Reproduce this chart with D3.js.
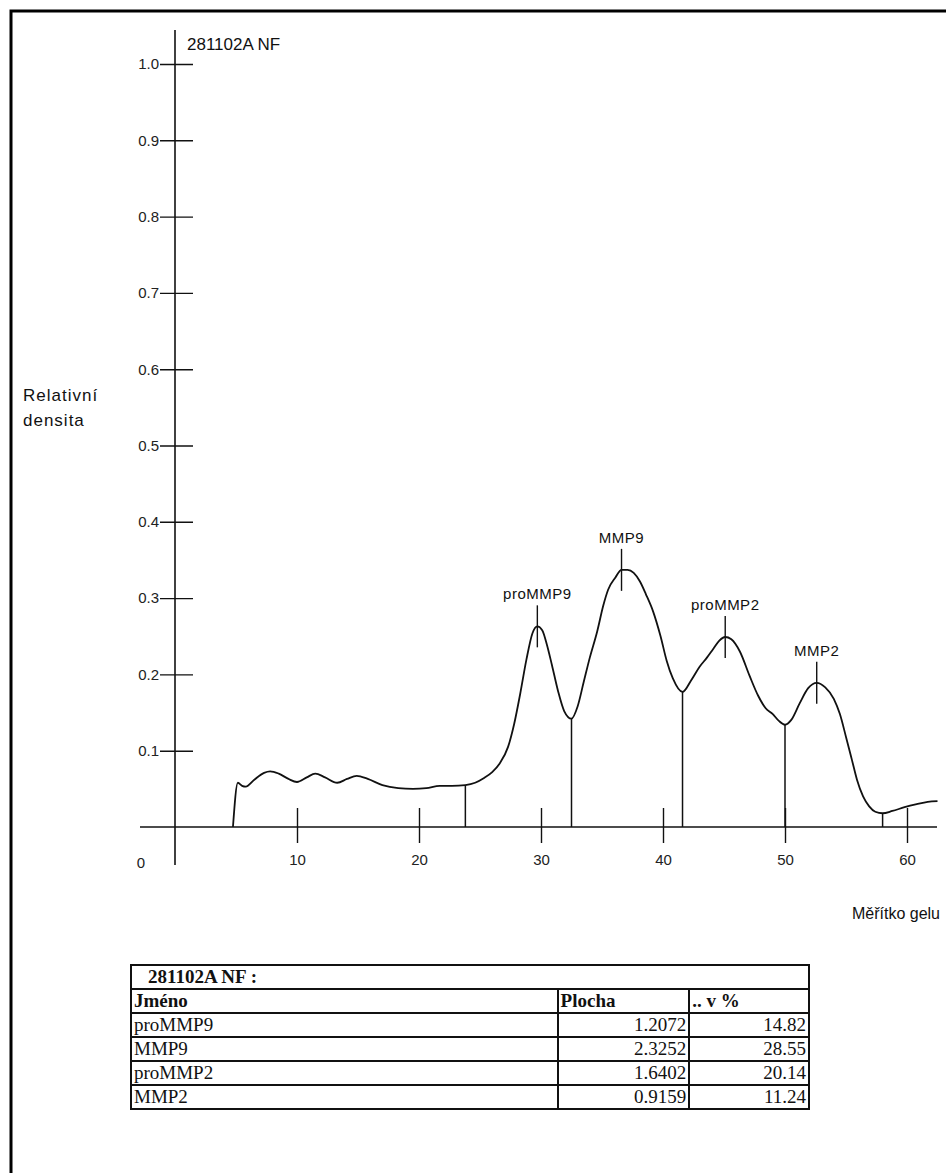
<!DOCTYPE html>
<html>
<head>
<meta charset="utf-8">
<script src="https://cdn.jsdelivr.net/npm/d3@7"></script>
<style>
  body { margin: 0; background: #fff; }
  #chart { position: relative; width: 946px; height: 1173px; }
  svg text { font-family: Arial, "Liberation Sans", sans-serif; fill: #111; }
  table.res { position: absolute; border-collapse: collapse; font-family: "Times New Roman", "Liberation Serif", serif; font-size: 19px; color: #111; }
  table.res td { border: 2px solid #111; padding: 0 2px; height: 22px; line-height: 22px; }
</style>
</head>
<body>
<div id="chart"></div>
<script>
// densitometric profile of lane 281102A NF (gel scale vs relative density)
var profileX = [4.75, 5.15, 5.5, 5.8, 6.5, 7.3, 7.8, 8.5, 9.3, 10.0, 10.8, 11.5, 12.3, 13.3, 14.1, 14.9, 15.8, 17.0, 18.3, 19.5,
    20.6, 21.7, 22.7, 23.8, 24.6, 25.3, 26.0, 26.6, 27.3, 27.8, 28.3, 28.8, 29.3, 29.7, 30.1, 30.5, 30.9, 31.4, 31.9, 32.5,
    33.0, 33.5, 34.0, 34.6, 35.1, 35.5, 36.1, 36.6, 37.1, 37.6, 38.1, 38.6, 39.2, 39.8, 40.3, 40.8, 41.6, 42.3, 43.0, 43.6,
    44.1, 44.6, 45.1, 45.6, 46.3, 47.1, 47.8, 48.4, 49.0, 49.5, 50.0, 50.5, 51.2, 51.9, 52.6, 53.3, 54.0, 54.5, 55.0, 55.5,
    55.9, 56.4, 56.9, 57.4, 58.0, 58.8, 59.8, 60.8, 61.7, 62.5];
var profileY = [0, 0.058, 0.054, 0.053, 0.062, 0.071, 0.073, 0.070, 0.063, 0.059, 0.065, 0.070, 0.065, 0.058, 0.063, 0.067, 0.063, 0.055, 0.051, 0.050,
    0.051, 0.054, 0.054, 0.055, 0.058, 0.064, 0.072, 0.083, 0.105, 0.135, 0.175, 0.219, 0.254, 0.263, 0.258, 0.238, 0.212, 0.178, 0.152, 0.142,
    0.158, 0.190, 0.222, 0.256, 0.290, 0.311, 0.327, 0.337, 0.337, 0.333, 0.322, 0.305, 0.282, 0.250, 0.218, 0.195, 0.177, 0.192, 0.210, 0.222,
    0.233, 0.244, 0.249, 0.246, 0.230, 0.198, 0.172, 0.156, 0.148, 0.139, 0.134, 0.140, 0.162, 0.182, 0.189, 0.183, 0.168, 0.148, 0.118, 0.087,
    0.062, 0.040, 0.027, 0.020, 0.018, 0.021, 0.026, 0.030, 0.033, 0.034];

var dividers = [23.8, 32.5, 41.6, 50.0, 58.0];
var peakNames = ["proMMP9", "MMP9", "proMMP2", "MMP2"];
var peakPos = [29.7, 36.6, 45.1, 52.6];
var areas = ["1.2072", "2.3252", "1.6402", "0.9159"];
var percents = ["14.82", "28.55", "20.14", "11.24"];

var xTicks = [10, 20, 30, 40, 50, 60];
var yTicks = [0.1, 0.2, 0.3, 0.4, 0.5, 0.6, 0.7, 0.8, 0.9, 1.0];

(function () {
    var W = 946, H = 1173;
    var el = document.getElementById("chart");
    var svg = d3.select(el).append("svg").attr("width", W).attr("height", H);

    var x = d3.scaleLinear().domain([0, 60]).range([175, 907]);
    var y = d3.scaleLinear().domain([0, 1]).range([827, 64]);

    // frame (top + left)
    svg.append("path").attr("d", "M11,1173V11H946").attr("fill", "none").attr("stroke", "#000").attr("stroke-width", 3);

    // axis lines, extended past the origin like the original printout
    svg.append("line").attr("x1", 140).attr("x2", 937).attr("y1", y(0)).attr("y2", y(0))
        .attr("stroke", "#111").attr("stroke-width", 1.6);
    svg.append("line").attr("x1", x(0)).attr("x2", x(0)).attr("y1", 30).attr("y2", 865)
        .attr("stroke", "#111").attr("stroke-width", 1.6);

    var ya = svg.append("g").attr("transform", "translate(" + x(0) + ",0)")
        .call(d3.axisLeft(y).tickValues(yTicks).tickFormat(d3.format(".1f")).tickSize(15));
    ya.select(".domain").remove();
    ya.selectAll(".tick line").attr("x1", 18).attr("x2", -15).attr("stroke", "#111").attr("stroke-width", 1.4);
    ya.selectAll(".tick text").attr("x", -16).style("font-size", "15px").style("font-family", null).style("fill", "#222");

    var xa = svg.append("g").attr("transform", "translate(0," + y(0) + ")")
        .call(d3.axisBottom(x).tickValues(xTicks).tickFormat(d3.format("d")).tickSize(16));
    xa.select(".domain").remove();
    xa.selectAll(".tick line").attr("y1", -19).attr("y2", 16).attr("stroke", "#111").attr("stroke-width", 1.4);
    xa.selectAll(".tick text").attr("y", 27).style("font-size", "15px").style("font-family", null).style("fill", "#222");
    svg.append("text").attr("x", 141).attr("y", y(0) + 41).attr("text-anchor", "middle")
        .style("font-size", "15px").style("fill", "#222").text("0");

    // profile curve
    var line = d3.line()
        .x(function (d, i) { return x(profileX[i]); })
        .y(function (d, i) { return y(profileY[i]); })
        .curve(d3.curveMonotoneX);
    svg.append("path").datum(profileX).attr("d", line)
        .attr("fill", "none").attr("stroke", "#111").attr("stroke-width", 1.8);

    // value of the profile at a gel position (for dropping the dividers onto the curve)
    var bis = d3.bisector(function (d) { return d; }).left;
    function valueAt(v) {
        var i = Math.max(1, Math.min(profileX.length - 1, bis(profileX, v)));
        var t = (v - profileX[i - 1]) / (profileX[i] - profileX[i - 1]);
        return profileY[i - 1] + t * (profileY[i] - profileY[i - 1]);
    }

    svg.selectAll("line.div").data(dividers).enter().append("line").attr("class", "div")
        .attr("x1", function (d) { return x(d); }).attr("x2", function (d) { return x(d); })
        .attr("y1", function (d) { return y(valueAt(d)); }).attr("y2", y(0))
        .attr("stroke", "#111").attr("stroke-width", 1.5);

    // peak markers + names
    var pk = svg.selectAll("g.peak").data(peakPos).enter().append("g").attr("class", "peak")
        .attr("transform", function (d) { return "translate(" + x(d) + "," + y(valueAt(d)) + ")"; });
    pk.append("line").attr("y1", -21).attr("y2", 21).attr("stroke", "#111").attr("stroke-width", 1.4);
    pk.append("text").attr("y", -27).attr("text-anchor", "middle").style("font-size", "15px")
        .style("letter-spacing", "0.5px")
        .text(function (d, i) { return peakNames[i]; });

    // titles
    svg.append("text").attr("x", 187).attr("y", 50).style("font-size", "17px").text("281102A NF");
    var yl = svg.append("text").attr("x", 23).attr("y", 401).style("font-size", "17px").style("letter-spacing", "1px");
    yl.append("tspan").attr("x", 23).text("Relativní");
    yl.append("tspan").attr("x", 23).attr("dy", 25).text("densita");
    svg.append("text").attr("x", 940).attr("y", 919).attr("text-anchor", "end").style("font-size", "16px").text("Měřítko gelu");

    // results table
    var tbl = d3.select(el).append("table").attr("class", "res")
        .style("left", "130px").style("top", "964px").style("width", "680px");
    var cols = tbl.append("colgroup");
    cols.append("col").style("width", "428px");
    cols.append("col").style("width", "132px");
    cols.append("col").style("width", "120px");
    tbl.append("tr").append("td").attr("colspan", 3)
        .style("font-weight", "bold").style("padding-left", "16px").text("281102A NF :");
    var hr = tbl.append("tr").style("font-weight", "bold");
    hr.append("td").text("Jméno");
    hr.append("td").text("Plocha");
    hr.append("td").text(".. v %");
    peakNames.forEach(function (n, i) {
        var r = tbl.append("tr");
        r.append("td").text(n);
        r.append("td").style("text-align", "right").text(areas[i]);
        r.append("td").style("text-align", "right").text(percents[i]);
    });
})();
</script>
</body>
</html>
